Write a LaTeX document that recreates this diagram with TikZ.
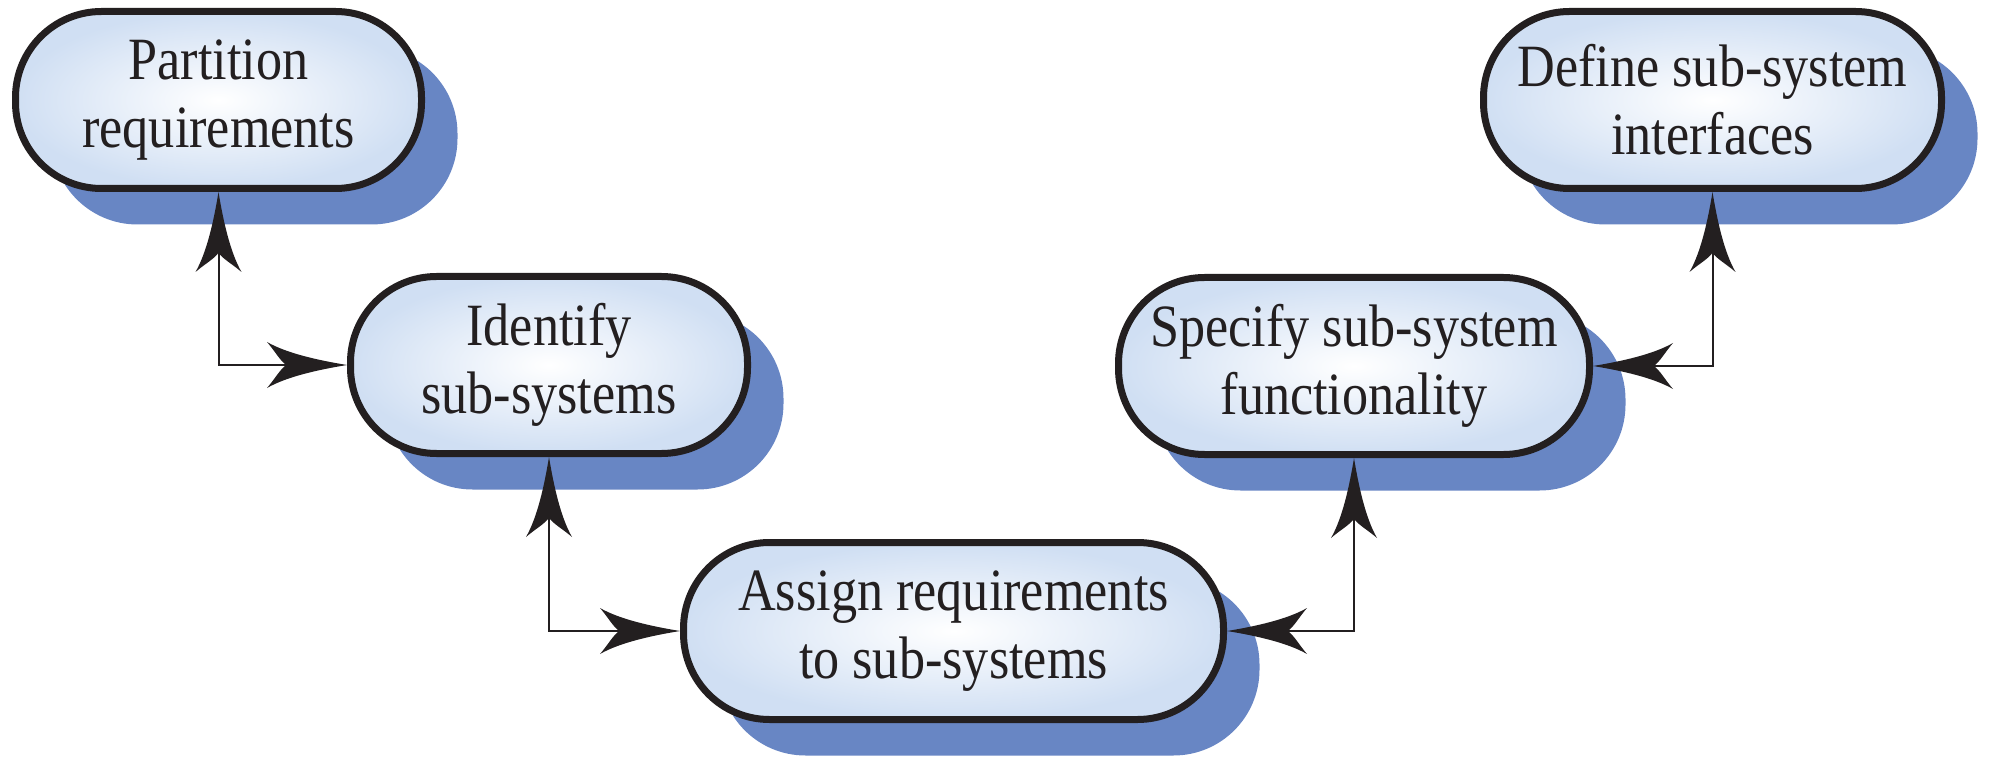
\documentclass[tikz,border=0pt]{standalone}
\usepackage{fontspec}
\setmainfont{Liberation Serif}[FakeStretch=0.87]
\usetikzlibrary{arrows.meta,shadows}
\definecolor{ink}{HTML}{231F20}
\definecolor{shadowblue}{RGB}{104,134,196}
\definecolor{edgeblue}{RGB}{208,223,243}
\pgfdeclarearrow{
  name=Barb,
  parameters={\the\pgfarrowlength,\the\pgfarrowwidth},
  setup code={
    \pgfarrowssettipend{0pt}
    \pgfarrowssetbackend{-\pgfarrowlength}
    \pgfarrowssetlineend{-0.6\pgfarrowlength}
    \pgfarrowssetvisualbackend{-0.75\pgfarrowlength}
    \pgfarrowssavethe\pgfarrowlength
    \pgfarrowssavethe\pgfarrowwidth
  },
  drawing code={
    \pgfpathmoveto{\pgfqpoint{0pt}{0pt}}
    \pgfpathcurveto{\pgfqpoint{-0.35\pgfarrowlength}{0.1\pgfarrowwidth}}{\pgfqpoint{-0.75\pgfarrowlength}{0.25\pgfarrowwidth}}{\pgfqpoint{-\pgfarrowlength}{0.5\pgfarrowwidth}}
    \pgfpathcurveto{\pgfqpoint{-0.9\pgfarrowlength}{0.3\pgfarrowwidth}}{\pgfqpoint{-0.84\pgfarrowlength}{0.1\pgfarrowwidth}}{\pgfqpoint{-0.76\pgfarrowlength}{0pt}}
    \pgfpathcurveto{\pgfqpoint{-0.84\pgfarrowlength}{-0.1\pgfarrowwidth}}{\pgfqpoint{-0.9\pgfarrowlength}{-0.3\pgfarrowwidth}}{\pgfqpoint{-\pgfarrowlength}{-0.5\pgfarrowwidth}}
    \pgfpathcurveto{\pgfqpoint{-0.75\pgfarrowlength}{-0.25\pgfarrowwidth}}{\pgfqpoint{-0.35\pgfarrowlength}{-0.1\pgfarrowwidth}}{\pgfqpoint{0pt}{0pt}}
    \pgfpathclose
    \pgfusepathqfill
  },
  defaults={length=40pt, width=23pt}
}
\tikzset{
  stepnode/.style={draw=ink, line width=3.5pt, rounded corners=43pt,
    minimum height=88.5pt, inner color=white, outer color=edgeblue,
    drop shadow={shadow xshift=18pt, shadow yshift=-18pt, fill=shadowblue, opacity=1},
    align=center, text=ink, font=\fontsize{30}{34}\selectfont},
  conn/.style={draw=ink, line width=1pt, arrows={Barb[fill=ink]-Barb[fill=ink]}}
}
\begin{document}
\begin{tikzpicture}[x=0.5pt, y=-0.5pt]
\useasboundingbox (0,0) rectangle (1990,764);
\node[stepnode, minimum width=203pt] (part) at (218.5,100) {Partition\\requirements};
\node[stepnode, minimum width=198.5pt] (ident) at (549,365) {Identify\\sub-systems};
\node[stepnode, minimum width=270pt] (assign) at (953.5,631) {Assign requirements\\to sub-systems};
\node[stepnode, minimum width=235.5pt] (spec) at (1354,366) {Specify sub-system\\functionality};
\node[stepnode, minimum width=229pt] (def) at (1712.5,100) {Define sub-system\\interfaces};
\draw[conn] (part.south) |- (ident.west);
\draw[conn] (ident.south) |- (assign.west);
\draw[conn] (assign.east) -| (spec.south);
\draw[conn] (spec.east) -| (def.south);
\end{tikzpicture}
\end{document}
